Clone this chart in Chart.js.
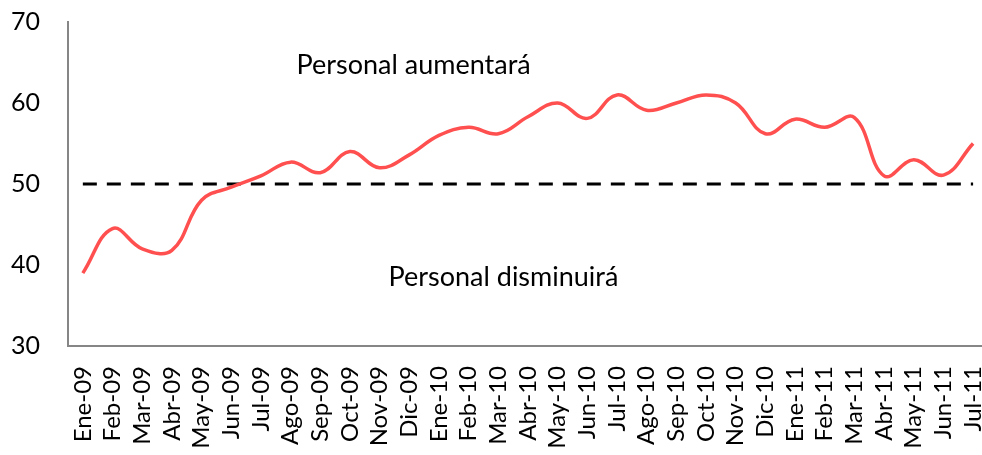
<!DOCTYPE html>
<html>
<head>
<meta charset="utf-8">
<script src="https://cdn.jsdelivr.net/npm/chart.js@4.4.1/dist/chart.umd.min.js"></script>
<style>
  html, body { margin: 0; padding: 0; background: #fff; }
  #wrap { width: 982px; height: 455px; }
</style>
</head>
<body>
<div id="wrap"><canvas id="grafico"></canvas></div>
<script>
// Datos del gráfico
const meses = ['Ene-09','Feb-09','Mar-09','Abr-09','May-09','Jun-09','Jul-09','Ago-09','Sep-09','Oct-09','Nov-09','Dic-09',
               'Ene-10','Feb-10','Mar-10','Abr-10','May-10','Jun-10','Jul-10','Ago-10','Sep-10','Oct-10','Nov-10','Dic-10',
               'Ene-11','Feb-11','Mar-11','Abr-11','May-11','Jun-11','Jul-11'];
const indice = [39, 44.5, 42, 41.8, 48, 49.6, 51, 52.7, 51.4, 54, 52, 53.6,
                56, 57, 56.2, 58.3, 60, 58.1, 61, 59.1, 60, 61, 60, 56.2,
                58, 57, 58.2, 51, 53, 51.1, 55];
const umbral = meses.map(() => 50);
const ticksY = [30, 40, 50, 60, 70];
const notas = [
  { texto: 'Personal aumentará', x: 7.2, y: 64.6 },
  { texto: 'Personal disminuirá', x: 10.3, y: 38.5 }
];

const FUENTE = 'Lato, "Open Sans", sans-serif';

// Textos de referencia ubicados con las escalas
const notasPlugin = {
  id: 'notas',
  afterDatasetsDraw(chart) {
    const { ctx, scales } = chart;
    ctx.save();
    ctx.font = '27px ' + FUENTE;
    ctx.fillStyle = '#000';
    ctx.textAlign = 'left';
    ctx.textBaseline = 'middle';
    notas.forEach(n => {
      ctx.fillText(n.texto, scales.x.getPixelForValue(n.x), scales.y.getPixelForValue(n.y));
    });
    ctx.restore();
  }
};

new Chart(document.getElementById('grafico'), {
  type: 'line',
  data: {
    datasets: [
      {
        data: indice.map((v, i) => ({ x: i, y: v })),
        borderColor: '#ff4f4f',
        borderWidth: 3.5,
        tension: 0.4,
        pointRadius: 0,
        fill: false
      },
      {
        data: umbral.map((v, i) => ({ x: i, y: v })),
        borderColor: '#000',
        borderWidth: 3,
        borderDash: [14, 10],
        tension: 0,
        pointRadius: 0,
        fill: false
      }
    ]
  },
  options: {
    responsive: true,
    maintainAspectRatio: false,
    animation: false,
    layout: { padding: { top: 22, right: 0, bottom: 0, left: 0 } },
    plugins: { legend: { display: false }, tooltip: { enabled: false } },
    scales: {
      x: {
        type: 'linear',
        min: -0.5,
        max: 30.3,
        afterBuildTicks: s => { s.ticks = meses.map((m, i) => ({ value: i })); },
        afterFit: s => { s.height = 109; s.paddingLeft = 0; s.paddingRight = 0; },
        grid: { display: false, drawTicks: false },
        border: { display: true, color: '#868686', width: 2 },
        ticks: {
          autoSkip: false,
          maxRotation: 90,
          minRotation: 90,
          padding: 20,
          color: '#000',
          font: { family: FUENTE, size: 24 },
          callback: v => meses[v] || ''
        }
      },
      y: {
        min: 30,
        max: 70,
        afterBuildTicks: s => { s.ticks = ticksY.map(v => ({ value: v })); },
        afterFit: s => { s.width = 68; s.paddingTop = 0; s.paddingBottom = 0; },
        grid: { display: false, drawTicks: false },
        border: { display: true, color: '#868686', width: 2 },
        ticks: {
          padding: 28,
          color: '#000',
          font: { family: FUENTE, size: 25 }
        }
      }
    }
  },
  plugins: [notasPlugin]
});
</script>
</body>
</html>
